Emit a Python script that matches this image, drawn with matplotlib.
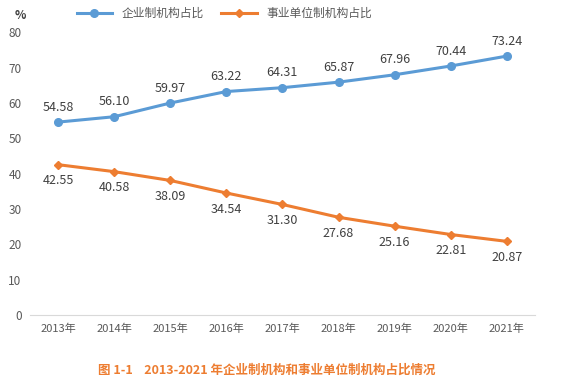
import matplotlib
matplotlib.use('Agg')
import matplotlib.pyplot as plt

plt.rcParams['font.family'] = ['Noto Sans CJK SC', 'DejaVu Sans']

years = ['2013年', '2014年', '2015年', '2016年', '2017年', '2018年', '2019年', '2020年', '2021年']
enterprise = [54.58, 56.10, 59.97, 63.22, 64.31, 65.87, 67.96, 70.44, 73.24]
institution = [42.55, 40.58, 38.09, 34.54, 31.30, 27.68, 25.16, 22.81, 20.87]

blue = '#5B9BD5'
orange = '#ED7D31'
gray = '#595959'

fig = plt.figure(figsize=(5.66, 3.83), dpi=100)
ax = fig.add_axes([0.053, 0.177, 0.892, 0.739])

x = list(range(len(years)))
ax.plot(x, enterprise, color=blue, lw=2.2, marker='o', ms=5.5, label='企业制机构占比')
ax.plot(x, institution, color=orange, lw=2.2, marker='D', ms=4.5, label='事业单位制机构占比')

for i, v in enumerate(enterprise):
    ax.annotate(f'{v:.2f}', (i, v), xytext=(0, 6), textcoords='offset points',
                ha='center', va='bottom', fontsize=9, color='#404040')
for i, v in enumerate(institution):
    ax.annotate(f'{v:.2f}', (i, v), xytext=(0, -7), textcoords='offset points',
                ha='center', va='top', fontsize=9, color='#404040')

ax.set_xlim(-0.5, len(years) - 0.5)
ax.set_ylim(0, 80)
ax.set_yticks(range(0, 81, 10))
ax.set_xticks(x)
ax.set_xticklabels(years)
ax.tick_params(axis='both', length=0, labelsize=8, colors=gray)
ax.tick_params(axis='y', pad=6, labelsize=8.5)
ax.tick_params(axis='x', pad=6)
for s in ['top', 'right', 'left']:
    ax.spines[s].set_visible(False)
ax.spines['bottom'].set_color('#D9D9D9')

fig.text(0.025, 0.95, '%', fontsize=8.5, color='#404040', fontweight='bold')
ax.legend(loc='lower center', bbox_to_anchor=(0.385, 1.005), ncol=2, frameon=False,
          fontsize=8.5, labelcolor=gray, handlelength=3.0, columnspacing=1.5)

fig.text(0.472, 0.025, '图 1-1    2013-2021 年企业制机构和事业单位制机构占比情况',
         ha='center', fontsize=9, color=orange, fontweight='bold')

fig.savefig('out.png', dpi=100)
